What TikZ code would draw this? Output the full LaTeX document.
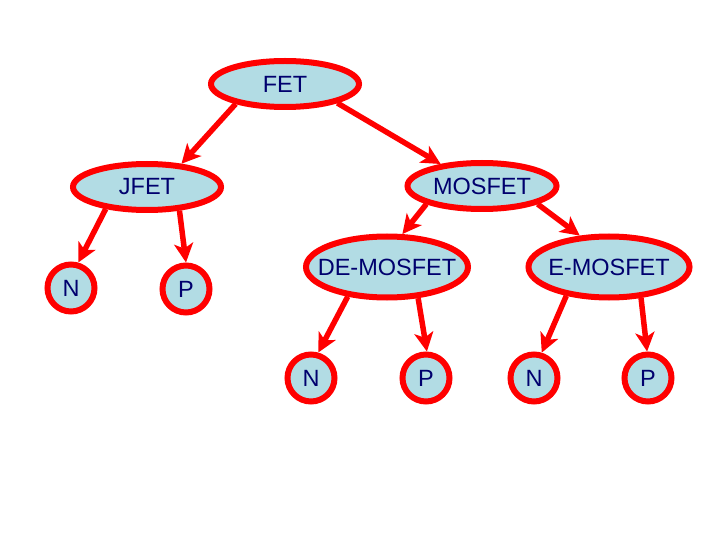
\documentclass[tikz,border=0pt]{standalone}
\usepackage{fontspec}
\setmainfont{Liberation Sans}
\usetikzlibrary{shapes.geometric,arrows.meta}
\definecolor{lblue}{RGB}{178,220,228}
\definecolor{txtblue}{RGB}{0,0,110}
\begin{document}
\begin{tikzpicture}[x=1pt,y=-1pt]

\tikzstyle{e} = [draw=red, fill=lblue, text=txtblue, line width=6pt, shape=ellipse, inner xsep=-12pt, inner ysep=2pt, minimum width=148pt, minimum height=46pt, font=\fontsize{23.5}{28}\selectfont]
\tikzstyle{we} = [e, minimum width=162pt, minimum height=61pt]
\tikzstyle{c} = [draw=red, fill=lblue, text=txtblue, line width=6pt, shape=circle, inner sep=0pt, minimum size=47pt, font=\fontsize{23.5}{28}\selectfont]
\tikzstyle{a} = [draw=red, line width=5.5pt, -{Stealth[length=19pt,width=19pt,inset=5pt]}]

\useasboundingbox (0,0) rectangle (720,540);

\node[e] (fet) at (285,84) {FET};
\node[e] (jfet) at (147,187) {JFET};
\node[e, minimum width=149pt] (mosfet) at (482,186) {MOSFET};
\node[c] (jn) at (71,288) {N};
\node[c] (jp) at (186,289) {P};
\node[we] (de) at (387,267) {DE-MOSFET};
\node[we, minimum width=161pt] (em) at (609,267) {E-MOSFET};
\node[c] (den) at (311,378) {N};
\node[c] (dep) at (426,378) {P};
\node[c] (emn) at (534,378) {N};
\node[c] (emp) at (648,378) {P};

\draw[a] (fet.202) -- (jfet.34);
\draw[a] (fet.340) -- (mosfet.152);
\draw[a] (jfet.208) -- (jn.74);
\draw[a] (jfet.324) -- (jp.90);
\draw[a] (mosfet.198) -- (de.65);
\draw[a] (mosfet.342) -- (em.133);
\draw[a] (de.217) -- (den.74);
\draw[a] (de.315) -- (dep.88);
\draw[a] (em.214) -- (emn.73);
\draw[a] (em.316) -- (emp.92);
\end{tikzpicture}
\end{document}
